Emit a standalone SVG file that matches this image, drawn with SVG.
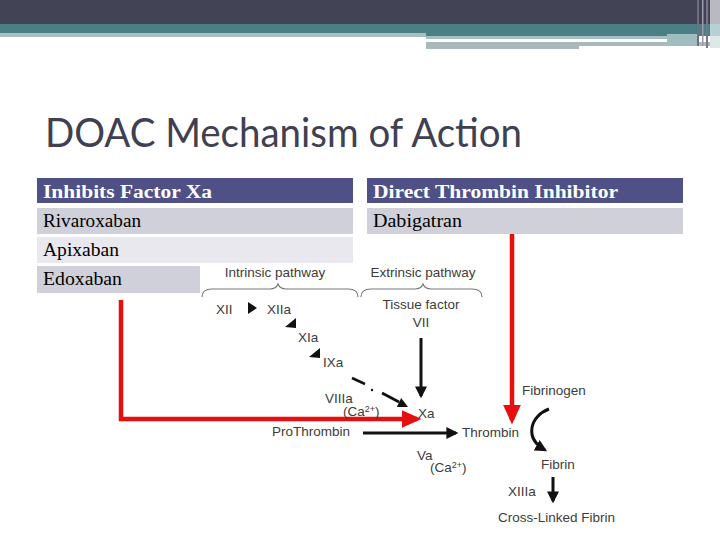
<svg xmlns="http://www.w3.org/2000/svg" width="720" height="540" viewBox="0 0 720 540">
<defs>
<style>
.hdr{fill:#4f5186}
.row1{fill:#cfd0d9}
.row2{fill:#e8e8ee}
.th{font-family:"Liberation Serif",serif;font-weight:bold;font-size:18px;fill:#ffffff}
.td{font-family:"Liberation Serif",serif;font-size:18px;fill:#000000}
.lbl{font-family:"Liberation Sans",Arial,sans-serif;font-size:13.5px;fill:#3c3c3c}
.sup{font-size:9px}
.blk{stroke:#111;fill:none;stroke-width:3}
.red{stroke:#e60f0f;fill:none;stroke-width:4.5}
.brace{stroke:#777;fill:none;stroke-width:1.2}
</style>
<marker id="ab" markerWidth="4" markerHeight="4" refX="3.2" refY="2" orient="auto" markerUnits="strokeWidth"><path d="M0,0 L4,2 L0,4 Z" fill="#111"/></marker>
<marker id="ar" markerWidth="4.4" markerHeight="4" refX="3.4" refY="2" orient="auto" markerUnits="strokeWidth"><path d="M0,0 L4.4,2 L0,4 Z" fill="#e60f0f"/></marker>
</defs>
<rect width="720" height="540" fill="#ffffff"/>
<g id="banner">
<rect x="0" y="0" width="720" height="24" fill="#434356"/>
<rect x="0" y="24" width="720" height="9" fill="#4a7f84"/>
<rect x="0" y="33" width="426" height="4" fill="#a7bfc2"/>
<rect x="426" y="33" width="284" height="3" fill="#4a7f84"/>
<rect x="426" y="36" width="241" height="3" fill="#a7bfc2"/>
<rect x="426" y="42" width="153" height="7" fill="#a7b9bc"/>
<rect x="579" y="42" width="131" height="4" fill="#a7b9bc"/>
<rect x="667" y="34" width="30" height="12" fill="#9fbcbf"/>
<rect x="697" y="0" width="2" height="46" fill="#6e6e80"/>
<rect x="702" y="0" width="1.5" height="46" fill="#9a9aa8"/>
<rect x="706" y="0" width="2" height="48" fill="#77778a"/>
<rect x="710" y="0" width="10" height="24" fill="#b9b9c2"/>
<rect x="710" y="24" width="10" height="12" fill="#b7d0d3"/>
<rect x="710" y="36" width="10" height="12" fill="#dde8ea"/>
</g>
<text id="title" x="45" y="147" font-family="Lato,'Open Sans',sans-serif" font-size="40" fill="#404052" textLength="477" lengthAdjust="spacingAndGlyphs">DOAC Mechanism of Action</text>
<g id="table">
<rect class="hdr" x="37" y="178" width="316" height="25"/>
<rect class="hdr" x="367" y="178" width="316" height="25"/>
<rect class="row1" x="37" y="208" width="316" height="26"/>
<rect class="row1" x="367" y="208" width="316" height="26"/>
<rect class="row2" x="37" y="237" width="316" height="26"/>
<rect class="row1" x="37" y="266" width="163" height="27"/>
<text class="th" x="43" y="198" textLength="169" lengthAdjust="spacingAndGlyphs">Inhibits Factor Xa</text>
<text class="th" x="373" y="198" textLength="245" lengthAdjust="spacingAndGlyphs">Direct Thrombin Inhibitor</text>
<text class="td" x="43" y="227" textLength="98" lengthAdjust="spacingAndGlyphs">Rivaroxaban</text>
<text class="td" x="373" y="227" textLength="89" lengthAdjust="spacingAndGlyphs">Dabigatran</text>
<text class="td" x="43" y="256" textLength="76" lengthAdjust="spacingAndGlyphs">Apixaban</text>
<text class="td" x="43" y="285" textLength="79" lengthAdjust="spacingAndGlyphs">Edoxaban</text>
</g>
<g id="connectors">
<path class="brace" d="M202,297 Q202,289 212,289 L270,289 Q276,289 278,284 Q280,289 286,289 L348,289 Q358,289 358,297"/>
<path class="brace" d="M361,297 Q361,289 371,289 L415,289 Q421,289 423,284 Q425,289 431,289 L472,289 Q482,289 482,297"/>
<path d="M248,302 L257,308 L248,314 Z" fill="#111"/>
<path d="M296,318 L296,328 L285,327 Z" fill="#111"/>
<path d="M320,348 L320,358 L309,357 Z" fill="#111"/>
<path d="M352,378 L365,384" stroke="#111" stroke-width="2.5"/>
<circle cx="372" cy="390" r="1.2" fill="#111"/>
<path d="M382,393 L399,402" stroke="#111" stroke-width="2.8"/>
<path d="M408,407 L396.8,407 L401.2,398 Z" fill="#111"/>
<path class="blk" d="M421,338 L421,396" marker-end="url(#ab)"/>
<path class="red" d="M121,300 L121,419 L417,419" marker-end="url(#ar)"/>
<path class="red" d="M512,234 L512,420" marker-end="url(#ar)"/>
<path class="blk" d="M363,433 L456,433" marker-end="url(#ab)"/>
<path class="blk" d="M549,409 C530,416 524,438 545,450" marker-end="url(#ab)"/>
<path class="blk" stroke-width="2.5" d="M553,477 L553,501" marker-end="url(#ab)"/>
</g>
<g id="n-intrinsic"><text class="lbl" x="275" y="277" text-anchor="middle">Intrinsic pathway</text></g>
<g id="n-extrinsic"><text class="lbl" x="423" y="277" text-anchor="middle">Extrinsic pathway</text></g>
<g id="n-xii"><text class="lbl" x="216" y="314">XII</text></g>
<g id="n-xiia"><text class="lbl" x="267" y="314">XIIa</text></g>
<g id="n-xia"><text class="lbl" x="298" y="342">XIa</text></g>
<g id="n-ixa"><text class="lbl" x="323" y="367">IXa</text></g>
<g id="n-viiia"><text class="lbl" x="325" y="403">VIIIa</text><text class="lbl" x="343" y="416">(Ca<tspan class="sup" dy="-4">2+</tspan><tspan dy="4">)</tspan></text></g>
<g id="n-tissue"><text class="lbl" x="421" y="309" text-anchor="middle">Tissue factor</text><text class="lbl" x="421" y="327" text-anchor="middle">VII</text></g>
<g id="n-xa"><text class="lbl" x="418" y="418">Xa</text></g>
<g id="n-prothrombin"><text class="lbl" x="272" y="436">ProThrombin</text></g>
<g id="n-thrombin"><text class="lbl" x="462" y="437">Thrombin</text></g>
<g id="n-va"><text class="lbl" x="417" y="460">Va</text><text class="lbl" x="430" y="472">(Ca<tspan class="sup" dy="-4">2+</tspan><tspan dy="4">)</tspan></text></g>
<g id="n-fibrinogen"><text class="lbl" x="522" y="395">Fibrinogen</text></g>
<g id="n-fibrin"><text class="lbl" x="541" y="469">Fibrin</text></g>
<g id="n-xiiia"><text class="lbl" x="508" y="496">XIIIa</text></g>
<g id="n-crosslinked"><text class="lbl" x="498" y="522">Cross-Linked Fibrin</text></g>
</svg>
